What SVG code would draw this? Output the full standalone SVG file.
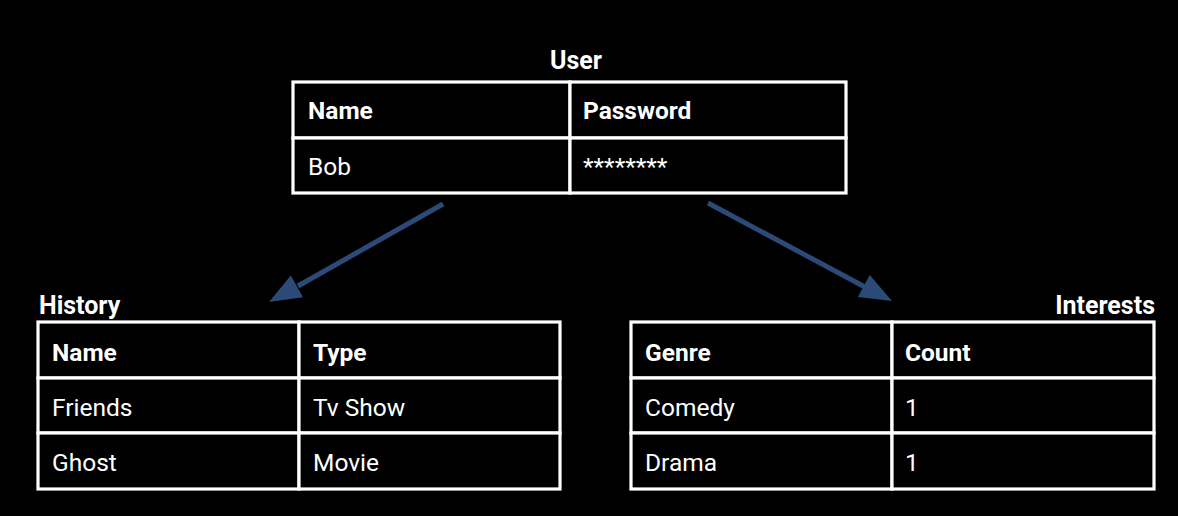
<svg xmlns="http://www.w3.org/2000/svg" width="1178" height="516" viewBox="0 0 1178 516">
<style>
.cell{fill:#000;stroke:#fff;stroke-width:3.2}
.h{font-family:Roboto,"Liberation Sans",sans-serif;font-weight:bold;font-size:24.5px;fill:#fff}
.t{font-family:Roboto,"Liberation Sans",sans-serif;font-size:24.5px;fill:#fff}
.title{font-family:Roboto,"Liberation Sans",sans-serif;font-weight:bold;font-size:25px;fill:#fff}
.arr{stroke:#2C4A78;stroke-width:5;fill:none}
.head{fill:#2C4A78}
</style>
<rect width="1178" height="516" fill="#000"/>
<g id="user">
<text class="title" x="576" y="69" text-anchor="middle">User</text>
<rect class="cell" x="293" y="82" width="277" height="56"/>
<rect class="cell" x="570" y="82" width="276" height="56"/>
<rect class="cell" x="293" y="138" width="277" height="55"/>
<rect class="cell" x="570" y="138" width="276" height="55"/>
<text class="h" x="308" y="119">Name</text>
<text class="h" x="583" y="119">Password</text>
<text class="t" x="308" y="175">Bob</text>
<text class="t" x="583" y="175">********</text>
</g>
<g id="history">
<text class="title" x="39" y="314">History</text>
<rect class="cell" x="38" y="322" width="261" height="56"/>
<rect class="cell" x="299" y="322" width="261" height="56"/>
<rect class="cell" x="38" y="378" width="261" height="55"/>
<rect class="cell" x="299" y="378" width="261" height="55"/>
<rect class="cell" x="38" y="433" width="261" height="56"/>
<rect class="cell" x="299" y="433" width="261" height="56"/>
<text class="h" x="52" y="361">Name</text>
<text class="h" x="313" y="361">Type</text>
<text class="t" x="52" y="416">Friends</text>
<text class="t" x="313" y="416">Tv Show</text>
<text class="t" x="52" y="471">Ghost</text>
<text class="t" x="313" y="471">Movie</text>
</g>
<g id="interests">
<text class="title" x="1155" y="314" text-anchor="end">Interests</text>
<rect class="cell" x="631" y="322" width="261" height="56"/>
<rect class="cell" x="892" y="322" width="262" height="56"/>
<rect class="cell" x="631" y="378" width="261" height="55"/>
<rect class="cell" x="892" y="378" width="262" height="55"/>
<rect class="cell" x="631" y="433" width="261" height="56"/>
<rect class="cell" x="892" y="433" width="262" height="56"/>
<text class="h" x="645" y="361">Genre</text>
<text class="h" x="905" y="361">Count</text>
<text class="t" x="645" y="416">Comedy</text>
<text class="t" x="905" y="416">1</text>
<text class="t" x="645" y="471">Drama</text>
<text class="t" x="905" y="471">1</text>
</g>
<g id="connectors">
<line class="arr" x1="443" y1="204" x2="298" y2="286"/>
<polygon class="head" points="269,302 303,297.2 290.8,275.4"/>
<line class="arr" x1="708" y1="203" x2="865" y2="287"/>
<polygon class="head" points="892,301 857.9,297 869.7,275"/>
</g>
</svg>
